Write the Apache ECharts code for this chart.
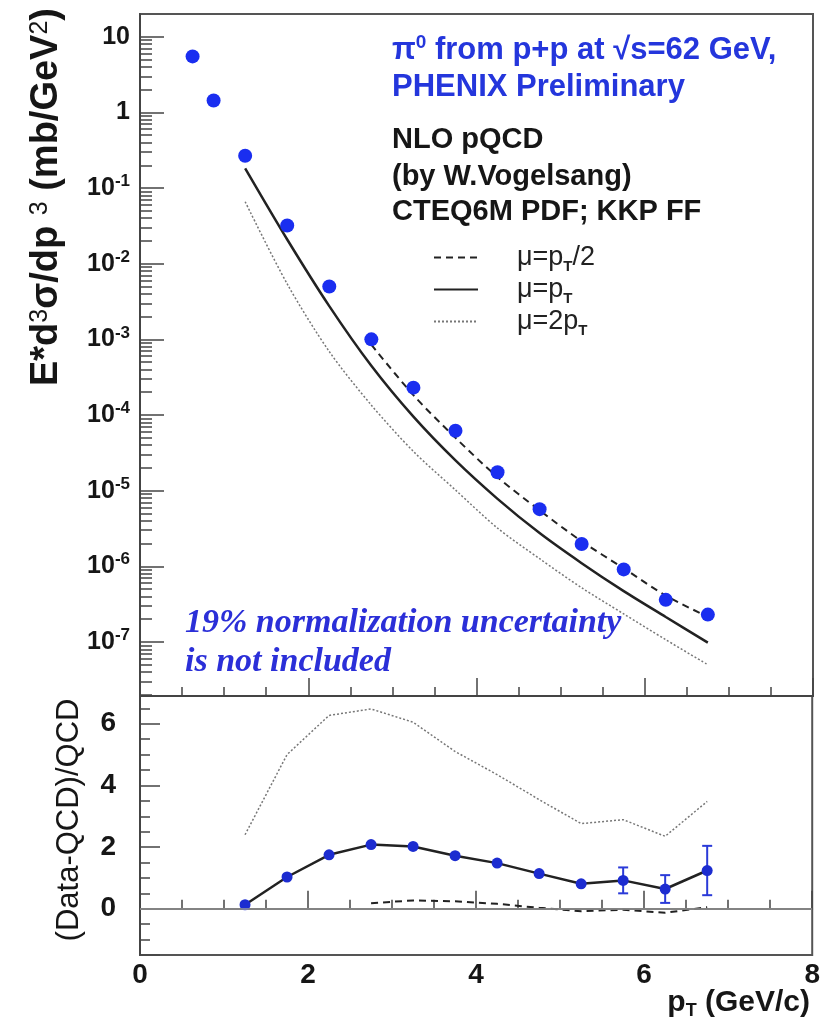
<!DOCTYPE html>
<html>
<head>
<meta charset="utf-8">
<script src="https://cdn.jsdelivr.net/npm/echarts@6/dist/echarts.min.js"></script>
<style>
  html, body { margin: 0; padding: 0; background: #fff; }
  #chart { width: 823px; height: 1030px; }
</style>
</head>
<body>
<div id="chart"></div>
<script>
// PHENIX pi0 cross section, p+p at 62 GeV
const ptData = [0.625, 0.875, 1.25, 1.75, 2.25, 2.75, 3.25, 3.75, 4.25, 4.75, 5.25, 5.75, 6.25, 6.75]
const sigmaData = [5.5, 1.44, 0.267, 0.032, 0.0050, 1.0e-3, 2.3e-4, 6.2e-5, 1.75e-5, 5.7e-6, 1.97e-6, 9.1e-7, 3.6e-7, 2.3e-7]

// NLO pQCD curves
const ptNlo = [1.25, 1.75, 2.25, 2.75, 3.25, 3.75, 4.25, 4.75, 5.25, 5.75, 6.25, 6.75]
const nloMu1 = [0.182, 0.0209, 2.75e-3, 4.47e-4, 9.5e-5, 2.51e-5, 7.8e-6, 2.75e-6, 1.10e-6, 4.7e-7, 2.14e-7, 9.8e-8]
const nloMu2 = [0.066, 0.0054, 6.9e-4, 1.35e-4, 3.3e-5, 1.02e-5, 3.2e-6, 1.26e-6, 5.2e-7, 2.35e-7, 1.07e-7, 5.0e-8]
const ptNloHalf = [2.75, 3.25, 3.75, 4.25, 4.75, 5.25, 5.75, 6.25, 6.75]
const nloMuHalf = [8.5e-4, 1.83e-4, 5.0e-5, 1.51e-5, 5.5e-6, 2.14e-6, 9.4e-7, 4.1e-7, 2.15e-7]

// (Data-QCD)/QCD
const ratioMu1 = [0.13, 1.03, 1.75, 2.08, 2.02, 1.72, 1.48, 1.14, 0.81, 0.92, 0.64, 1.24]
const ratioErr = [0, 0, 0, 0, 0, 0, 0, 0, 0, 0.42, 0.45, 0.80]
const ratioMu2 = [2.40, 5.0, 6.27, 6.48, 6.05, 5.1, 4.35, 3.54, 2.76, 2.89, 2.35, 3.48]
const ratioMuHalf = [0.18, 0.27, 0.24, 0.16, 0.03, -0.08, -0.03, -0.13, 0.05]

const xTicks = ['0', '2', '4', '6', '8']
const decades = [-8, -7, -6, -5, -4, -3, -2, -1, 0, 1]

const yMin = 1.93e-8
const yMax = 20

const blue = '#1a2ef0'
const textBlue = '#2436dc'
const ink = '#161616'
const zip = (xs, ys) => xs.map((x, i) => [x, ys[i]])

// log minor ticks at 2..9 x 10^n
const minorLog = []
decades.forEach(n => {
  for (let k = 2; k <= 9; k++) {
    const v = k * Math.pow(10, n)
    if (v > yMin && v < yMax) minorLog.push(v)
  }
})

const chart = echarts.init(document.getElementById('chart'))

const legendNames = {
  'μ=pT/2': '{g|}{b|μ=p}{s|T}{b|/2}',
  'μ=pT': '{g|}{b|μ=p}{s|T}',
  'μ=2pT': '{g|}{b|μ=2p}{s|T}'
}

const tickStyle = { color: '#444', width: 1.5 }

chart.setOption({
  animation: false,
  textStyle: { fontFamily: 'Liberation Sans, Arial, sans-serif' },
  grid: [
    { left: 140, top: 14, width: 673, height: 682, show: true, borderColor: '#555', borderWidth: 2 },
    { left: 140, top: 696, width: 673, height: 259, show: true, borderColor: '#555', borderWidth: 2 }
  ],
  legend: {
    data: ['μ=pT/2', 'μ=pT', 'μ=2pT'],
    orient: 'vertical',
    left: 433,
    top: 244,
    padding: 0,
    itemWidth: 44,
    itemHeight: 14,
    itemGap: 2,
    selectedMode: false,
    itemStyle: { opacity: 0 },
    formatter: name => legendNames[name],
    textStyle: {
      rich: {
        g: { width: 34 },
        b: { fontSize: 27, lineHeight: 33, color: '#222', fontFamily: 'Liberation Sans' },
        s: { fontSize: 15, lineHeight: 15, verticalAlign: 'bottom', color: '#222', fontWeight: 'bold' }
      }
    }
  },
  xAxis: [{
    type: 'value',
    gridIndex: 0,
    min: 0,
    max: 8,
    interval: 2,
    axisLine: { show: true, lineStyle: { color: '#444', width: 2 } },
    axisTick: { inside: true, length: 18, lineStyle: tickStyle },
    minorTick: { show: true, splitNumber: 4, length: 9, lineStyle: tickStyle },
    axisLabel: { show: false },
    splitLine: { show: false }
  }, {
    type: 'value',
    gridIndex: 1,
    min: 0,
    max: 8,
    interval: 2,
    axisLine: { show: true, lineStyle: { color: '#444', width: 2 } },
    axisTick: { inside: true, length: 18, lineStyle: tickStyle },
    minorTick: { show: true, splitNumber: 4, length: 9, lineStyle: tickStyle },
    axisLabel: {
      margin: 6,
      fontSize: 28,
      fontWeight: 'bold',
      color: ink,
      formatter: v => xTicks[Math.round(v / 2)]
    },
    splitLine: { show: false }
  }],
  yAxis: [{
    type: 'log',
    gridIndex: 0,
    logBase: 10,
    min: yMin,
    max: yMax,
    axisLine: { show: true, lineStyle: { color: '#444', width: 2 } },
    axisTick: { inside: true, length: 24, lineStyle: tickStyle },
    minorTick: { show: false },
    axisLabel: {
      margin: 10,
      fontSize: 25,
      lineHeight: 30,
      fontWeight: 'bold',
      color: ink,
      showMinLabel: false,
      showMaxLabel: false,
      formatter: v => {
        const n = Math.round(Math.log10(v))
        if (n === 1) return '10'
        if (n === 0) return '1'
        return '10{sup|' + n + '}'
      },
      rich: {
        sup: { fontSize: 17, lineHeight: 17, verticalAlign: 'top', fontWeight: 'bold', color: ink }
      }
    },
    splitLine: { show: false }
  }, {
    type: 'value',
    gridIndex: 1,
    min: -1.5,
    max: 6.9,
    splitNumber: 4,
    axisLine: { show: true, lineStyle: { color: '#444', width: 2 } },
    axisTick: { inside: true, length: 20, lineStyle: tickStyle },
    minorTick: { show: true, splitNumber: 4, length: 10, lineStyle: tickStyle },
    axisLabel: {
      margin: 24,
      fontSize: 28,
      fontWeight: 'bold',
      color: ink,
      showMinLabel: false,
      showMaxLabel: false
    },
    splitLine: { show: false }
  }, {
    // minor ticks of the log axis (2..9 per decade)
    type: 'log',
    gridIndex: 0,
    logBase: 10,
    min: yMin,
    max: yMax,
    position: 'left',
    axisLine: { show: false },
    axisTick: { show: true, inside: true, length: 12, lineStyle: tickStyle, customValues: minorLog },
    axisLabel: { show: false },
    splitLine: { show: false }
  }],
  series: [
    {
      name: 'μ=2pT',
      type: 'line',
      xAxisIndex: 0,
      yAxisIndex: 0,
      data: zip(ptNlo, nloMu2),
      smooth: 0.3,
      symbol: 'none',
      lineStyle: { color: '#777', width: 1.5, type: [2, 2] },
      z: 2
    },
    {
      name: 'μ=pT',
      type: 'line',
      xAxisIndex: 0,
      yAxisIndex: 0,
      data: zip(ptNlo, nloMu1),
      smooth: 0.3,
      symbol: 'none',
      lineStyle: { color: '#222', width: 2.5 },
      z: 3
    },
    {
      name: 'μ=pT/2',
      type: 'line',
      xAxisIndex: 0,
      yAxisIndex: 0,
      data: zip(ptNloHalf, nloMuHalf),
      smooth: 0.3,
      symbol: 'none',
      lineStyle: { color: '#222', width: 2, type: [7, 5] },
      z: 3
    },
    {
      name: 'data',
      type: 'scatter',
      xAxisIndex: 0,
      yAxisIndex: 0,
      data: zip(ptData, sigmaData),
      symbol: 'circle',
      symbolSize: 14,
      itemStyle: { color: blue, opacity: 1 },
      z: 5
    },
    // ratio panel
    {
      name: 'r2',
      type: 'line',
      xAxisIndex: 1,
      yAxisIndex: 1,
      data: zip(ptNlo, ratioMu2),
      symbol: 'none',
      lineStyle: { color: '#777', width: 1.5, type: [2, 2] },
      z: 2
    },
    {
      name: 'rhalf',
      type: 'line',
      xAxisIndex: 1,
      yAxisIndex: 1,
      data: zip(ptNloHalf, ratioMuHalf),
      symbol: 'none',
      lineStyle: { color: '#222', width: 2, type: [7, 5] },
      z: 2
    },
    {
      name: 'rerr',
      type: 'custom',
      xAxisIndex: 1,
      yAxisIndex: 1,
      data: ptNlo.map((x, i) => [x, ratioMu1[i], ratioErr[i]]).filter(d => d[2] > 0),
      renderItem: (params, api) => {
        const x = api.value(0), y = api.value(1), e = api.value(2)
        const hi = api.coord([x, y + e])
        const lo = api.coord([x, y - e])
        const w = 5
        const st = { stroke: '#2a3ad8', lineWidth: 2 }
        return {
          type: 'group',
          children: [
            { type: 'line', shape: { x1: hi[0], y1: hi[1], x2: lo[0], y2: lo[1] }, style: st },
            { type: 'line', shape: { x1: hi[0] - w, y1: hi[1], x2: hi[0] + w, y2: hi[1] }, style: st },
            { type: 'line', shape: { x1: lo[0] - w, y1: lo[1], x2: lo[0] + w, y2: lo[1] }, style: st }
          ]
        }
      },
      z: 3
    },
    {
      name: 'r1',
      type: 'line',
      xAxisIndex: 1,
      yAxisIndex: 1,
      data: zip(ptNlo, ratioMu1),
      symbol: 'circle',
      symbolSize: 11,
      itemStyle: { color: '#1c2cd0' },
      lineStyle: { color: '#222', width: 2.5 },
      markLine: {
        silent: true,
        symbol: 'none',
        label: { show: false },
        lineStyle: { color: '#999', type: 'solid', width: 1.5 },
        data: [{ yAxis: 0 }]
      },
      z: 4
    }
  ],
  graphic: [
    {
      type: 'text',
      x: 47, y: 8,
      rotation: Math.PI / 2,
      style: {
        text: 'E*d{sup|3}σ/dp {sup|3} (mb/GeV{sup|2})',
        fontSize: 38, fontWeight: 'bold', fontFamily: 'Liberation Sans',
        fill: ink, align: 'right', verticalAlign: 'middle',
        rich: {
          sup: { fontSize: 25, lineHeight: 25, verticalAlign: 'top', fontWeight: 'normal', fill: ink }
        }
      }
    },
    {
      type: 'text',
      x: 69, y: 820,
      rotation: Math.PI / 2,
      style: {
        text: '(Data-QCD)/QCD',
        fontSize: 31, fontFamily: 'Liberation Sans',
        fill: ink, align: 'center', verticalAlign: 'middle'
      }
    },
    {
      type: 'text',
      x: 810, y: 1003,
      style: {
        text: 'p{sub|T} (GeV/c)',
        fontSize: 30, fontWeight: 'bold', fontFamily: 'Liberation Sans',
        fill: ink, align: 'right', verticalAlign: 'middle', lineHeight: 34,
        rich: {
          sub: { fontSize: 18, lineHeight: 18, verticalAlign: 'bottom', fontWeight: 'bold', fill: ink }
        }
      }
    },
    {
      type: 'text',
      x: 392, y: 50,
      style: {
        text: 'π{sup|0} from p+p at √s=62 GeV,',
        fontSize: 31, fontWeight: 'bold', fontFamily: 'Liberation Sans',
        fill: textBlue, align: 'left', verticalAlign: 'middle', lineHeight: 34,
        rich: {
          sup: { fontSize: 19, lineHeight: 19, verticalAlign: 'top', fontWeight: 'bold', fill: textBlue }
        }
      }
    },
    {
      type: 'text',
      x: 392, y: 87,
      style: {
        text: 'PHENIX Preliminary',
        fontSize: 31, fontWeight: 'bold', fontFamily: 'Liberation Sans',
        fill: textBlue, align: 'left', verticalAlign: 'middle'
      }
    },
    {
      type: 'text',
      x: 392, y: 140,
      style: {
        text: 'NLO pQCD',
        fontSize: 29, fontWeight: 'bold', fontFamily: 'Liberation Sans',
        fill: ink, align: 'left', verticalAlign: 'middle'
      }
    },
    {
      type: 'text',
      x: 392, y: 177,
      style: {
        text: '(by W.Vogelsang)',
        fontSize: 29, fontWeight: 'bold', fontFamily: 'Liberation Sans',
        fill: ink, align: 'left', verticalAlign: 'middle'
      }
    },
    {
      type: 'text',
      x: 392, y: 212,
      style: {
        text: 'CTEQ6M PDF; KKP FF',
        fontSize: 29, fontWeight: 'bold', fontFamily: 'Liberation Sans',
        fill: ink, align: 'left', verticalAlign: 'middle'
      }
    },
    {
      type: 'text',
      x: 185, y: 623,
      style: {
        text: '19% normalization uncertainty',
        fontSize: 34, fontWeight: 'bold', fontStyle: 'italic', fontFamily: 'Liberation Serif',
        fill: '#2b2fd8', align: 'left', verticalAlign: 'middle'
      }
    },
    {
      type: 'text',
      x: 185, y: 662,
      style: {
        text: 'is not included',
        fontSize: 34, fontWeight: 'bold', fontStyle: 'italic', fontFamily: 'Liberation Serif',
        fill: '#2b2fd8', align: 'left', verticalAlign: 'middle'
      }
    }
  ]
})
</script>
</body>
</html>
